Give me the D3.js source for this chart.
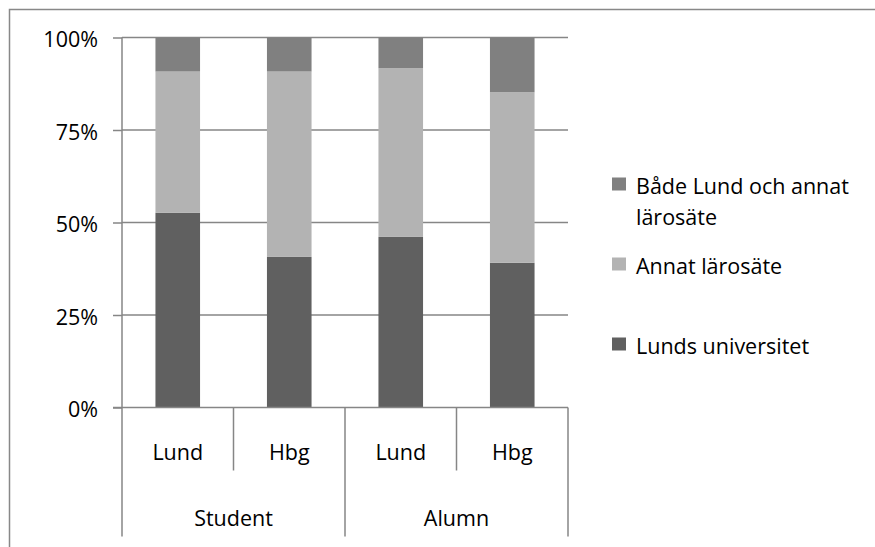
<!DOCTYPE html>
<html>
<head>
<meta charset="utf-8">
<script src="https://cdnjs.cloudflare.com/ajax/libs/d3/7.8.5/d3.min.js"></script>
<style>
  body { margin: 0; background: #fff; }
  text { font-family: "Open Sans", Lato, sans-serif; font-size: 21.5px; fill: #000; }
</style>
</head>
<body>
<div id="chart"></div>
<script>
// chart data (shares in %)
var sites = ["Lund", "Hbg", "Lund", "Hbg"];
var groups = ["Student", "Student", "Alumn", "Alumn"];
var groupNames = ["Student", "Alumn"];
var lundsUniversitet = [52.6, 40.7, 46.1, 39.1];
var annatLarosate = [38.2, 50.1, 45.6, 46.1];
var badaLundOchAnnat = [9.2, 9.2, 8.3, 14.8];
var yTicks = [0, 25, 50, 75, 100];

var seriesKeys = ["lund", "annat", "bada"];
var seriesNames = {
    lund: ["Lunds universitet"],
    annat: ["Annat lärosäte"],
    bada: ["Både Lund och annat", "lärosäte"]
};
var seriesColors = { lund: "#606060", annat: "#b3b3b3", bada: "#808080" };

var svgWidth = 875;
var svgHeight = 547;

var chartMargin = { top: 37.5, left: 122, right: 307, bottom: 139.5 };
var chartWidth = svgWidth - chartMargin.left - chartMargin.right;
var chartHeight = svgHeight - chartMargin.top - chartMargin.bottom;

var svg = d3.select("#chart")
    .append("svg")
    .attr("width", svgWidth)
    .attr("height", svgHeight);

// outer frame
svg.append("rect")
    .attr("x", 9.5)
    .attr("y", 9.5)
    .attr("width", 900)
    .attr("height", 600)
    .attr("fill", "none")
    .attr("stroke", "#888")
    .attr("stroke-width", 1.5);

var chartGroup = svg.append("g")
    .attr("transform", `translate(${chartMargin.left}, ${chartMargin.top})`);

// build rows for stacking
var rows = sites.map(function (s, i) {
    return {
        idx: i,
        lund: lundsUniversitet[i],
        annat: annatLarosate[i],
        bada: badaLundOchAnnat[i]
    };
});

var xScale = d3.scaleBand()
    .domain(d3.range(sites.length))
    .range([0, chartWidth])
    .paddingInner(0.6)
    .paddingOuter(0.3);

var yScale = d3.scaleLinear()
    .domain([0, 100])
    .range([chartHeight, 0]);

var step = xScale.step();
var axisColor = "#868686";

// gridlines
chartGroup.append("g")
    .selectAll("line")
    .data(yTicks.filter(d => d > 0))
    .enter()
    .append("line")
    .attr("x1", 0)
    .attr("x2", chartWidth)
    .attr("y1", d => yScale(d))
    .attr("y2", d => yScale(d))
    .attr("stroke", axisColor)
    .attr("stroke-width", 1.5);

// stacked bars
var stack = d3.stack().keys(seriesKeys);
var stacked = stack(rows);

chartGroup.append("g")
    .selectAll("g")
    .data(stacked)
    .enter()
    .append("g")
    .attr("fill", d => seriesColors[d.key])
    .selectAll("rect")
    .data(d => d)
    .enter()
    .append("rect")
    .attr("x", d => xScale(d.data.idx))
    .attr("width", xScale.bandwidth())
    .attr("y", d => yScale(d[1]))
    .attr("height", d => yScale(d[0]) - yScale(d[1]));

// y axis
var leftAxis = d3.axisLeft(yScale)
    .tickValues(yTicks)
    .tickSize(9)
    .tickPadding(15)
    .tickFormat(d => d + "%");

var yAxis = chartGroup.append("g").call(leftAxis);
yAxis.select(".domain").remove();
yAxis.selectAll("line").attr("stroke", axisColor).attr("stroke-width", 1.5);
yAxis.selectAll("text")
    .attr("dy", "0.35em")
    .attr("y", 1.5);
yAxis.attr("font-family", null).attr("font-size", null);

chartGroup.append("line")
    .attr("x1", 0)
    .attr("x2", 0)
    .attr("y1", 0)
    .attr("y2", chartHeight)
    .attr("stroke", axisColor)
    .attr("stroke-width", 1.5);

chartGroup.append("line")
    .attr("x1", -9)
    .attr("x2", chartWidth)
    .attr("y1", chartHeight)
    .attr("y2", chartHeight)
    .attr("stroke", axisColor)
    .attr("stroke-width", 1.5);

// category separators (short ones inside a group, long ones between groups)
var sepX = d3.range(sites.length + 1);
chartGroup.append("g")
    .selectAll("line")
    .data(sepX)
    .enter()
    .append("line")
    .attr("x1", d => d * step)
    .attr("x2", d => d * step)
    .attr("y1", chartHeight)
    .attr("y2", d => chartHeight + (d % 2 === 0 ? 129 : 63))
    .attr("stroke", axisColor)
    .attr("stroke-width", 1.5);

// site labels
chartGroup.append("g")
    .selectAll("text")
    .data(sites)
    .enter()
    .append("text")
    .attr("x", (d, i) => xScale(i) + xScale.bandwidth() / 2)
    .attr("y", chartHeight + 45)
    .attr("dy", "0.35em")
    .attr("text-anchor", "middle")
    .text(d => d);

// group labels
chartGroup.append("g")
    .selectAll("text")
    .data(groupNames)
    .enter()
    .append("text")
    .attr("x", (d, i) => (i * 2 + 1) * step)
    .attr("y", chartHeight + 111)
    .attr("dy", "0.35em")
    .attr("text-anchor", "middle")
    .text(d => d);

// legend
var legendItems = [
    { key: "bada", y: 184 },
    { key: "annat", y: 264 },
    { key: "lund", y: 344 }
];

var legend = svg.append("g");
legendItems.forEach(function (item) {
    legend.append("rect")
        .attr("x", 612)
        .attr("y", item.y - 6.5)
        .attr("width", 14)
        .attr("height", 13)
        .attr("fill", seriesColors[item.key]);
    seriesNames[item.key].forEach(function (line, j) {
        legend.append("text")
            .attr("x", 636)
            .attr("y", item.y + 2.5 + j * 30.5)
            .attr("dy", "0.35em")
            .text(line);
    });
});
</script>
</body>
</html>
